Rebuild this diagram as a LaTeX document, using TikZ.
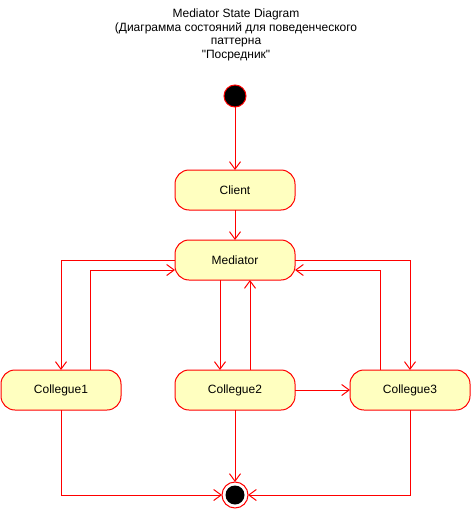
\documentclass[tikz,border=0pt]{standalone}
\usepackage{fontspec}
\setmainfont{Liberation Sans}
\usetikzlibrary{arrows.meta}
\definecolor{statefill}{HTML}{FFFFC0}
\definecolor{edge}{HTML}{FF0000}
\tikzset{
  statebox/.style={draw=edge, fill=statefill, line width=1pt, rounded corners=14pt,
    minimum width=120pt, minimum height=40pt, inner sep=0pt, outer sep=0pt,
    font=\fontsize{12}{14}\selectfont, text=black},
  flow/.style={draw=edge, line width=1pt,
    -{Straight Barb[length=7.5pt,width=11pt,line width=1pt]}},
}
\begin{document}
\begin{tikzpicture}[x=1pt,y=-1pt]
  \useasboundingbox (0,0) rectangle (471,511);

  % title
  \node[align=center, font=\fontsize{12}{13.5}\selectfont, text=black] (title) at (236,35)
    {Mediator State Diagram\\(Диаграмма состояний для поведенческого\\паттерна\\\textquotedbl Посредник\textquotedbl};

  % initial and final pseudo-states
  \node[circle, draw=edge, fill=black, line width=1pt, minimum size=22pt, inner sep=0pt, outer sep=0pt] (init) at (235,96) {};
  \node[circle, draw=edge, fill=white, line width=1pt, minimum size=26pt, inner sep=0pt, outer sep=0pt] (final) at (235,495) {};
  \node[circle, fill=black, minimum size=19pt, inner sep=0pt] (finalcore) at (final) {};

  % states
  \node[statebox] (client) at (235,190) {Client};
  \node[statebox] (mediator) at (235,260) {Mediator};
  \node[statebox] (c1) at (61,390) {Collegue1};
  \node[statebox] (c2) at (235,390) {Collegue2};
  \node[statebox] (c3) at (410,390) {Collegue3};

  % transitions
  \draw[flow] (init) -- (client);
  \draw[flow] (client) -- (mediator);
  \draw[flow] (mediator.west) -| (c1.north);
  \draw[flow] ([xshift=29pt]c1.north) |- ([yshift=-10pt]mediator.west);
  \draw[flow] (mediator.east) -| (c3.north);
  \draw[flow] ([xshift=-30pt]c3.north) |- ([yshift=-10pt]mediator.east);
  \draw[flow] ([xshift=-15pt]mediator.south) -- ([xshift=-15pt]c2.north);
  \draw[flow] ([xshift=15pt]c2.north) -- ([xshift=15pt]mediator.south);
  \draw[flow] (c2.east) -- (c3.west);
  \draw[flow] (c1.south) |- (final.west);
  \draw[flow] (c2.south) -- (final.north);
  \draw[flow] (c3.south) |- (final.east);
\end{tikzpicture}
\end{document}
